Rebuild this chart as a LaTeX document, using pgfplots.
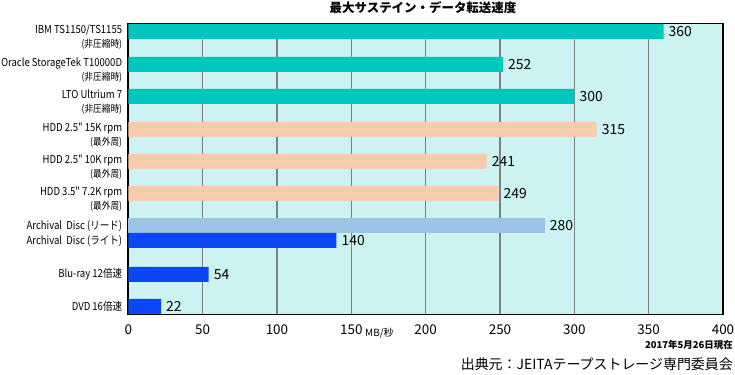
\documentclass[border=0pt]{standalone}
\usepackage{fontspec}
\setmainfont{Noto Sans CJK JP}
\newfontfamily\labfont[FakeStretch=0.87]{Noto Sans CJK JP}
\usepackage{pgfplots}
\pgfplotsset{compat=1.18}
\definecolor{bgcyan}{RGB}{204,243,241}
\definecolor{teal1}{RGB}{0,199,189}
\definecolor{peach}{RGB}{248,203,173}
\definecolor{lblue}{RGB}{157,195,230}
\definecolor{dblue}{RGB}{12,70,245}
\definecolor{gridgray}{RGB}{128,128,128}
\newcommand{\sub}[1]{{\fontsize{10}{10}\selectfont #1}}
\begin{document}
\begin{tikzpicture}
\path[use as bounding box] (0,0) rectangle (735bp,375bp);
\begin{axis}[
 at={(128.3bp,60.5bp)}, anchor=south west,
 scale only axis, width=594.7bp, height=291bp,
 xmin=0, xmax=400, ymin=0, ymax=291,
 xtick={0,50,...,400},
 ytick={277,244,212,179,147,115,88,73,40,8},
 yticklabels={
  {IBM TS1150/TS1155\\\sub{(非圧縮時)}},
  {Oracle StorageTek T10000D\\\sub{(非圧縮時)}},
  {LTO Ultrium 7\\\sub{(非圧縮時)}},
  {HDD 2.5" 15K rpm\\\sub{(最外周)}},
  {HDD 2.5" 10K rpm\\\sub{(最外周)}},
  {HDD 3.5" 7.2K rpm\\\sub{(最外周)}},
  {Archival\ \ Disc (リード)},
  {Archival\ \ Disc (ライト)},
  {Blu-ray 12倍速},
  {DVD 16倍速}},
 xmajorgrids, major grid style={gridgray, line width=1.2bp},
 major tick length=0pt,
 axis line style={black, line width=1.6bp},
 axis background/.style={fill=bgcyan},
 xbar, bar shift=0pt, bar width=15,
 point meta=x,
 nodes near coords,
 nodes near coords style={font=\fontsize{14}{14}\selectfont, anchor=west, inner sep=0pt, xshift=5bp},
 xticklabel style={font=\fontsize{13.5}{14}\selectfont, yshift=-7bp},
 yticklabel style={font=\labfont\fontsize{11}{14}\selectfont, align=right, inner sep=0pt, xshift=-6bp},
 /pgf/number format/assume math mode=true,
 clip=false,
]
\addplot[fill=teal1, draw=none] coordinates {(360,283) (252,250) (300,218)};
\addplot[fill=peach, draw=none] coordinates {(315,185) (241,153) (249,121)};
\addplot[fill=lblue, draw=none] coordinates {(280,89)};
\addplot[fill=dblue, draw=none] coordinates {(140,74) (54,40) (22,8)};
\end{axis}
\node[anchor=center, inner sep=0pt, font=\bfseries\fontsize{12.5}{13}\selectfont] at (423bp,367.5bp) {最大サステイン・データ転送速度};
\node[anchor=west, inner sep=0pt, font=\fontsize{10}{10}\selectfont] at (365bp,42bp) {MB/秒};
\node[anchor=east, inner sep=0pt, font=\bfseries\fontsize{9.5}{10}\selectfont] at (733bp,30bp) {2017年5月26日現在};
\node[anchor=east, inner sep=0pt, font=\fontsize{14}{14}\selectfont] at (733bp,11bp) {出典元：JEITAテープストレージ専門委員会};
\end{tikzpicture}
\end{document}
